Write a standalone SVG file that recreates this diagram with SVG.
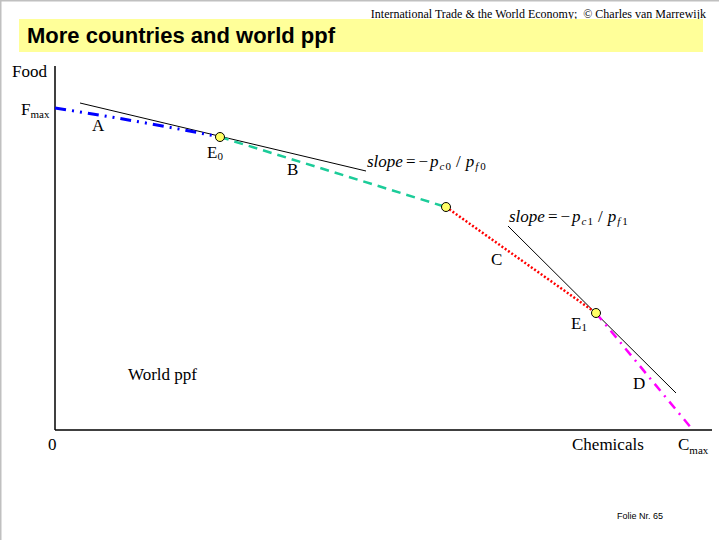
<svg xmlns="http://www.w3.org/2000/svg" width="719" height="540" viewBox="0 0 719 540">
<style>
.serif{font-family:"Liberation Serif","Times New Roman",serif;fill:#000}
.lbl{font-size:17px}
.sub{font-size:11px}
.eq{font-size:17px;font-style:italic}
.pt{fill:#ffff66;stroke:#000;stroke-width:1}
.tan{stroke:#000;stroke-width:1;fill:none}
.ax{stroke:#000;stroke-width:1.5;fill:none}
</style>
<rect x="0" y="0" width="719" height="540" fill="#fff"/>
<line x1="0" y1="0.75" x2="719" y2="0.75" stroke="#c0c0c0" stroke-width="1.5"/>
<line x1="0.75" y1="0" x2="0.75" y2="540" stroke="#c0c0c0" stroke-width="1.5"/>
<g id="header">
<text class="serif" x="706" y="18" font-size="12" text-anchor="end" xml:space="preserve">International Trade &amp; the World Economy;  © Charles van Marrewijk</text>
<rect x="19" y="19" width="684" height="33" fill="#ffff99"/>
<text x="27" y="43" font-family="Liberation Sans, Arial, sans-serif" font-size="22" font-weight="bold" fill="#000">More countries and world ppf</text>
</g>
<g id="axes">
<line class="ax" x1="55" y1="66" x2="55" y2="430"/>
<line class="ax" x1="55" y1="430" x2="712" y2="430"/>
<text class="serif lbl" x="12" y="77">Food</text>
<text class="serif lbl" x="21" y="115">F<tspan class="sub" dy="3">max</tspan></text>
<text class="serif lbl" x="48" y="450">0</text>
<text class="serif lbl" x="572" y="450">Chemicals</text>
<text class="serif lbl" x="678" y="450">C<tspan class="sub" dy="4">max</tspan></text>
</g>
<g id="connectors">
<line class="tan" x1="80" y1="103" x2="366" y2="171"/>
<line class="tan" x1="508" y1="226" x2="676" y2="393"/>
<path d="M55,108 Q140,121 220,137" fill="none" stroke="#0000ff" stroke-width="3" stroke-dasharray="11 6 2 6 2 6"/>
<line x1="220" y1="137" x2="446" y2="207" stroke="#1ccc99" stroke-width="2.5" stroke-dasharray="9 6"/>
<line x1="446" y1="207" x2="596" y2="313" stroke="#ff0000" stroke-width="2.5" stroke-dasharray="2 2"/>
<line x1="596" y1="313" x2="692" y2="429" stroke="#ff00ff" stroke-width="2.5" stroke-dasharray="9 6 2 6"/>
</g>
<g id="E0">
<circle class="pt" cx="220" cy="137" r="4.5"/>
<text class="serif lbl" x="207" y="158">E<tspan class="sub" dy="2">0</tspan></text>
</g>
<g id="P2">
<circle class="pt" cx="446" cy="207" r="4.5"/>
</g>
<g id="E1">
<circle class="pt" cx="596" cy="313" r="4.5"/>
<text class="serif lbl" x="571" y="329">E<tspan class="sub" dy="2">1</tspan></text>
</g>
<g id="labels">
<text class="serif lbl" x="92" y="131">A</text>
<text class="serif lbl" x="287" y="175">B</text>
<text class="serif lbl" x="491" y="265">C</text>
<text class="serif lbl" x="633" y="389">D</text>
<text class="serif lbl" x="128" y="380">World ppf</text>
<text class="serif eq" x="367" y="167">slope<tspan font-style="normal" dx="3">=</tspan><tspan font-style="normal" dx="3">−</tspan><tspan dx="2">p</tspan><tspan class="sub" dy="3" dx="1">c</tspan><tspan class="sub" font-style="normal" dx="1">0</tspan><tspan dy="-3" font-style="normal" dx="5">/</tspan><tspan dx="5">p</tspan><tspan class="sub" dy="3" dx="1">f</tspan><tspan class="sub" font-style="normal" dx="2">0</tspan></text>
<text class="serif eq" x="509" y="222">slope<tspan font-style="normal" dx="3">=</tspan><tspan font-style="normal" dx="3">−</tspan><tspan dx="2">p</tspan><tspan class="sub" dy="3" dx="1">c</tspan><tspan class="sub" font-style="normal" dx="1">1</tspan><tspan dy="-3" font-style="normal" dx="5">/</tspan><tspan dx="5">p</tspan><tspan class="sub" dy="3" dx="1">f</tspan><tspan class="sub" font-style="normal" dx="2">1</tspan></text>
</g>
<text x="617" y="519" font-family="Liberation Sans, Arial, sans-serif" font-size="9" fill="#000">Folie Nr. 65</text>
</svg>
